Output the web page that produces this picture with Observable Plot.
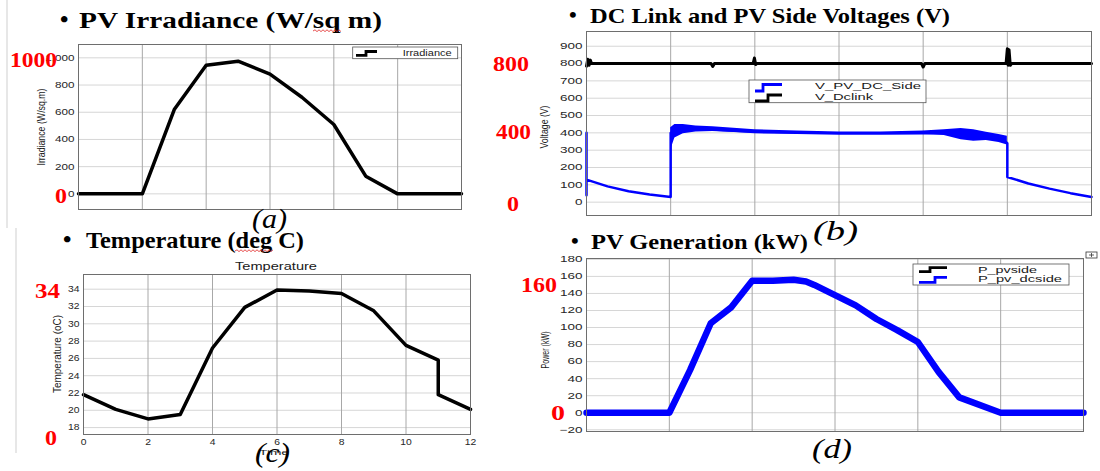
<!DOCTYPE html>
<html><head><meta charset="utf-8">
<script src="https://cdn.jsdelivr.net/npm/d3@7"></script>
<script src="https://cdn.jsdelivr.net/npm/@observablehq/plot@0.6"></script>
<style>
html,body{margin:0;padding:0;background:#fff;}
#fig{position:relative;width:1100px;height:471px;overflow:hidden;background:#fff;}
#fig svg{position:absolute;overflow:visible;}
</style>
</head><body><div id="fig"></div>
<script>
// ---------- data ----------
const hours = [0,1,2,3,4,5,6,7,8,9,10,11,12];
const irradiance = [0,0,0,620,945,975,880,710,510,130,0,0,0];

const tempHours = [0,1,2,3,4,5,6,7,8,9,10,11,11,12];
const temperature = [21.8,20.1,19.0,19.5,27.2,31.9,33.9,33.8,33.5,31.5,27.5,25.8,21.8,20.1];

const vdcT = [0,0.03,0.06,0.09,0.12,0.2,2.96,3.0,3.04,3.96,3.99,4.02,4.05,7.96,8.0,8.04,9.97,10.0,10.02,10.04,10.07,10.1,12];
const vdcV = [785,825,790,820,800,800,800,783,800,800,832,795,800,800,780,800,800,885,790,880,790,800,800];

const vpvT = [0,0,0,0.5,1,1.5,2,2,2.1,2.3,2.6,3,4,5,6,7,8,8.5,9,9.5,9.9,10,10,10.5,11,11.5,12];
const vpvV = [40,400,130,91,63,44,30,400,410,425,425,420,405,400,397,396,398,400,392,380,360,340,145,108,78,52,30];

const bandT  = [2.0,2.1,2.3,2.6,3.0,4.0,5.0,6.0,7.0,8.0,8.5,8.9,9.2,9.5,9.8,10.0];
const bandLo = [300,370,395,405,408,398,394,390,390,390,385,360,352,356,345,330];
const bandHi = [430,448,448,440,435,418,410,405,405,410,418,425,418,404,390,380];

const powerT = [0,2,2.5,3,3.5,4,4.5,5,5.3,5.5,6,6.5,7,7.5,8,8.5,9,10,12];
const pPvDcSide = [0,0,50,105,124,155,155,156,154,150,138,126,110,97,83,48,18,0,0];
const pPvSide   = [0,0,50,105,124,155,155,156,154,150,138,126,110,97,83,48,18,0,0];

const irrTicks = [0,200,400,600,800,1000];
const voltTicks = [0,100,200,300,400,500,600,700,800,900];
const tempTicks = [18,20,22,24,26,28,30,32,34];
const powerTicks = [-20,0,20,40,60,80,100,120,140,160,180];
const xGrid = [2,4,6,8,10];
const xTicks = [0,2,4,6,8,10,12];

// ---------- helpers ----------
const fig = document.getElementById("fig");
const zip = (xs, ys) => xs.map((x,i) => ({x, y: ys[i]}));
const baseStyle = {fontFamily:"'Liberation Sans', Arial, sans-serif", fontSize:"9px", color:"#262626", background:"transparent", overflow:"visible"};

function panel({frame, mL=40, mR=2, mT=2, mB=2, ydomain, marks, xAxis=false, stretch=1.3}) {
  const [x0,x1,y0,y1] = frame;
  const svg = Plot.plot({
    width: (x1-x0)+mL+mR, height: (y1-y0)+mT+mB,
    marginLeft: mL, marginRight: mR, marginTop: mT, marginBottom: mB,
    x: {domain:[0,12], axis: null},
    y: {domain: ydomain, axis: null},
    style: baseStyle,
    marks
  });
  svg.style.left = (x0-mL)+"px";
  svg.style.top = (y0-mT)+"px";
  fig.appendChild(svg);
  svg.querySelectorAll('g[aria-label$="tick label"] text').forEach(t => {
    const tr = t.getAttribute("transform");
    if (tr) t.setAttribute("transform", tr + ` scale(${stretch},1)`);
    else {
      const x = t.getAttribute("x")||0, y = t.getAttribute("y")||0;
      t.removeAttribute("x"); t.removeAttribute("y");
      t.setAttribute("transform", `translate(${x},${y}) scale(${stretch},1)`);
    }
  });
  return svg;
}
const hGrid = ticks => Plot.ruleY(ticks, {stroke:"#d6d6d6", strokeWidth:1});
const vGrid = () => Plot.ruleX(xGrid, {stroke:"#a8a8a8", strokeWidth:1});
const yAxis = ticks => Plot.axisY({ticks, tickSize:0, tickPadding:4, fontSize:9, label:null});

// (a) irradiance
panel({frame:[78,461,44,209], ydomain:[-115,1098], stretch:1.3, marks:[
  hGrid(irrTicks), vGrid(),
  Plot.line(zip(hours, irradiance), {x:"x", y:"y", stroke:"black", strokeWidth:3.5}),
  Plot.frame({stroke:"#6e6e6e"}),
  yAxis(irrTicks)
]});

// (b) voltages
panel({frame:[586,1091,31,215], ydomain:[-77,985], stretch:1.5, marks:[
  hGrid(voltTicks), vGrid(),
  Plot.areaY(bandT.map((t,i)=>({t, lo:bandLo[i], hi:bandHi[i]})), {x:"t", y1:"lo", y2:"hi", fill:"#0000ff", curve:"linear"}),
  Plot.line(zip(vpvT, vpvV), {x:"x", y:"y", stroke:"#0000ff", strokeWidth:2.5}),
  Plot.line(zip(vdcT, vdcV), {x:"x", y:"y", stroke:"black", strokeWidth:3}),
  Plot.frame({stroke:"#6e6e6e"}),
  yAxis(voltTicks)
]});

// (c) temperature
panel({frame:[83,470,274,434], mB:18, ydomain:[17.2,35.7], stretch:1.15, marks:[
  hGrid(tempTicks), vGrid(),
  Plot.line(zip(tempHours, temperature), {x:"x", y:"y", stroke:"black", strokeWidth:3.5}),
  Plot.frame({stroke:"#6e6e6e"}),
  yAxis(tempTicks),
  Plot.axisX({ticks:xTicks, tickSize:0, tickPadding:4, fontSize:9, label:null})
]});

// (d) power
panel({frame:[586,1083,258,431], ydomain:[-22,181], stretch:1.5, marks:[
  hGrid(powerTicks), vGrid(),
  Plot.line(zip(powerT, pPvSide), {x:"x", y:"y", stroke:"black", strokeWidth:3}),
  Plot.line(zip(powerT, pPvDcSide), {x:"x", y:"y", stroke:"#0000ff", strokeWidth:6.5}),
  Plot.frame({stroke:"#6e6e6e"}),
  yAxis(powerTicks)
]});

// ---------- annotations overlay ----------
const SANS = "'Liberation Sans',Arial,sans-serif", SERIF = "'Liberation Serif','Times New Roman',serif";
function txt(x, y, s, o={}) {
  const {size=10, family=SANS, weight="normal", style="normal", fill="#000", len=null, anchor="start", rotate=0} = o;
  const tl = len ? ` textLength="${len}" lengthAdjust="spacingAndGlyphs"` : "";
  const pos = rotate ? ` x="0" y="0" transform="translate(${x},${y}) rotate(${rotate})"` : ` x="${x}" y="${y}"`;
  return `<text${pos}${tl} text-anchor="${anchor}" font-family="${family}" font-size="${size}" font-weight="${weight}" font-style="${style}" fill="${fill}">${s}</text>`;
}
function wavy(x0, x1, y) {
  let d = `M${x0},${y}`; let up = true;
  for (let x = x0 + 2; x <= x1; x += 2) { d += ` L${x},${up ? y-1.2 : y+0.6}`; up = !up; }
  return `<path d="${d}" fill="none" stroke="#e02020" stroke-width="0.8"/>`;
}
const stair = (x0, yl, xm, yh, x1, c) => `<path d="M${x0},${yl} H${xm} V${yh} H${x1}" fill="none" stroke="${c}" stroke-width="2.8"/>`;
const box = (x, y, w, h) => `<rect x="${x}" y="${y}" width="${w}" height="${h}" fill="#fff" stroke="#555" stroke-width="0.8"/>`;
const head = {size:24, family:SERIF, weight:"bold"};
const red = {size:22, family:SERIF, weight:"bold", fill:"#ff0000"};
const cap = {size:28, family:SERIF, style:"italic"};
const small = {size:9, family:SANS, fill:"#1a1a1a"};

let o = "";
o += `<line x1="7" y1="0" x2="7" y2="228" stroke="#cfcfcf" stroke-width="1"/>`;
o += `<line x1="16" y1="228" x2="16" y2="453" stroke="#cfcfcf" stroke-width="1"/>`;
// headings
o += txt(60, 27, "•", head) + txt(79, 28, "PV Irradiance (W/sq m)", {...head, len:303});
o += wavy(313, 342, 31);
o += txt(569, 22, "•", {...head, size:22}) + txt(590, 23, "DC Link and PV Side Voltages (V)", {...head, size:22, len:360});
o += txt(63, 247, "•", head) + txt(86, 248, "Temperature (deg C)", {...head, len:218});
o += wavy(235, 273, 251);
o += txt(571, 248, "•", {...head, size:22}) + txt(591, 249, "PV Generation (kW)", {...head, size:22, len:217});
// y labels
o += txt(45, 127, "Irradiance (W/sq.m)", {...small, size:10, anchor:"middle", rotate:-90, len:77});
o += txt(548, 127, "Voltage (V)", {...small, size:11, anchor:"middle", rotate:-90, len:43});
o += txt(61, 354, "Temperature (oC)", {...small, size:10, anchor:"middle", rotate:-90, len:78});
o += txt(549, 350, "Power (kW)", {...small, size:11, anchor:"middle", rotate:-90, len:37});
// small title / x label
o += txt(276, 270, "Temperature", {...small, size:10, anchor:"middle", len:82});
o += txt(274, 455, "Time", {...small, size:8, anchor:"middle", len:30});
// legends
o += box(352.7, 47, 105, 11.7) + stair(356, 55.3, 366, 51.5, 377, "#000") + txt(402.7, 56, "Irradiance", {...small, len:49});
o += box(749, 80, 177, 22.7) + stair(755, 91, 763, 84.5, 782, "#0000ff") + stair(755, 101, 768, 95, 782, "#000")
   + txt(815, 89, "V_PV_DC_Side", {...small, len:106}) + txt(815, 99.5, "V_Dclink", {...small, len:58});
o += box(913, 264, 156, 21) + stair(919, 271.7, 930, 267.7, 947, "#000") + stair(919, 282.3, 935, 277.3, 947, "#0000ff")
   + txt(978, 272.5, "P_pvside", {...small, len:59}) + txt(978, 282, "P_pv_dcside", {...small, len:84});
o += `<rect x="1086" y="252" width="11" height="6" fill="#fff" stroke="#333" stroke-width="0.8"/><path d="M1089,255 H1094 M1091.5,253 V257" stroke="#333" stroke-width="0.8"/>`;
// red value labels
o += txt(10, 67, "1000", {...red, len:47}) + txt(55, 203, "0", {...red, len:12});
o += txt(493, 71, "800", {...red, len:36}) + txt(496, 139, "400", {...red, len:35}) + txt(507, 211, "0", {...red, len:12});
o += txt(35, 298, "34", {...red, len:25}) + txt(45, 445, "0", {...red, len:12});
o += txt(521, 292, "160", {...red, len:36}) + txt(551, 420, "0", {...red, len:14});
// captions
o += txt(252, 228, "(a)", {...cap, len:35});
o += txt(813, 240, "(b)", {...cap, len:45});
o += txt(255, 462, "(c)", {...cap, len:35});
o += txt(812, 458, "(d)", {...cap, len:40});

const ov = document.createElementNS("http://www.w3.org/2000/svg", "svg");
ov.setAttribute("width", 1100); ov.setAttribute("height", 471);
ov.setAttribute("viewBox", "0 0 1100 471");
ov.style.left = "0px"; ov.style.top = "0px"; ov.style.pointerEvents = "none";
ov.innerHTML = o;
fig.appendChild(ov);
</script>
</body></html>
